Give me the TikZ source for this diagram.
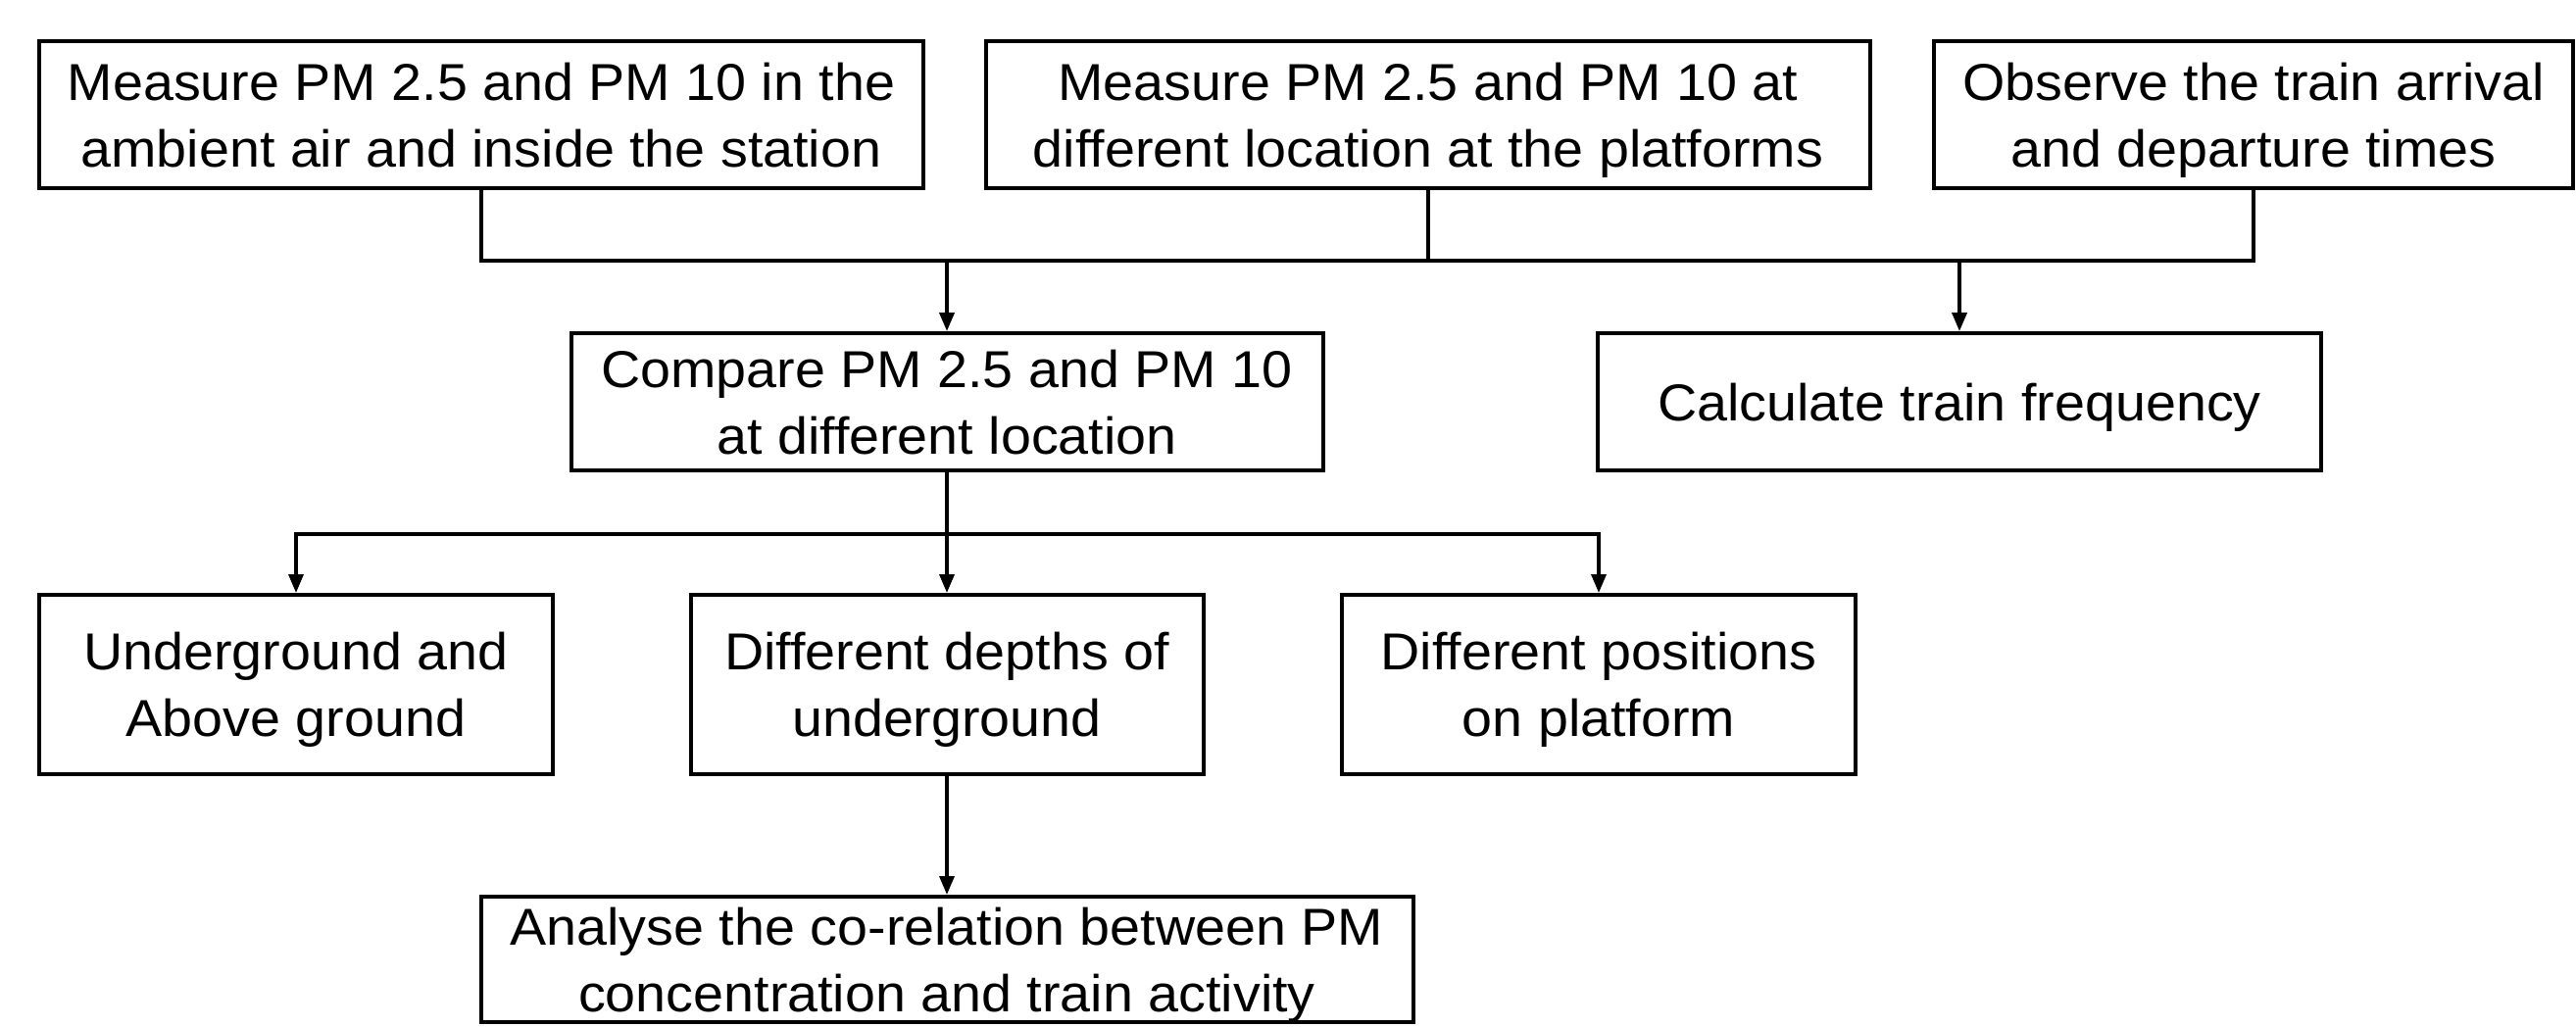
\documentclass[tikz,border=0pt]{standalone}
\usepackage{amsmath}
\usepackage{fontspec}
\setmainfont{Liberation Sans}[FakeStretch=1.05]
\usetikzlibrary{arrows.meta}

% last line of a box text: keep its descenders out of the centring
\newcommand{\lastline}[1]{\smash[b]{#1}}

\tikzset{
  stepbox/.style={draw=black, line width=4pt, fill=white, align=center,
    inner sep=0pt, font={\fontsize{53pt}{68pt}\selectfont}},
  conn/.style={draw=black, line width=3.5pt},
  arr/.style={conn, -{Triangle[length=19pt,width=15pt]}},
}

\begin{document}
\begin{tikzpicture}[x=1pt, y=-1pt]
  \useasboundingbox (0,0) rectangle (2628,1048);

  % top row: measurements and observations
  \node[stepbox, minimum width=902pt, minimum height=150pt] (A) at (491,117)
    {Measure PM 2.5 and PM 10 in the\\\lastline{ambient air and inside the station}};
  \node[stepbox, minimum width=902pt, minimum height=150pt] (B) at (1457,117)
    {Measure PM 2.5 and PM 10 at\\\lastline{different location at the platforms}};
  \node[stepbox, minimum width=652pt, minimum height=150pt] (C) at (2299,117)
    {Observe the train arrival\\\lastline{and departure times}};

  % second row
  \node[stepbox, minimum width=767pt, minimum height=140pt] (D) at (966,410)
    {Compare PM 2.5 and PM 10\\\lastline{at different location}};
  \node[stepbox, minimum width=738pt, minimum height=140pt] (E) at (1999,410)
    {\lastline{Calculate train frequency}};

  % third row: comparisons
  \node[stepbox, minimum width=524pt, minimum height=183pt] (F) at (302,698.5)
    {Underground and\\\lastline{Above ground}};
  \node[stepbox, minimum width=523pt, minimum height=183pt] (G) at (966,698.5)
    {Different depths of\\\lastline{underground}};
  \node[stepbox, minimum width=524pt, minimum height=183pt] (H) at (1631,698.5)
    {Different positions\\\lastline{on platform}};

  % final analysis
  \node[stepbox, minimum width=951pt, minimum height=128pt] (I) at (966,979)
    {Analyse the co-relation between PM\\\lastline{concentration and train activity}};

  % junction points of the connector bars
  \coordinate (j1) at (966,266);
  \coordinate (j2) at (966,545);

  % upper connector bar
  \draw[arr] (A.south) |- (j1) -- (D.north);
  \draw[conn] (B.south) -- (B.south |- j1);
  \draw[conn] (j1) -- (E.north |- j1);
  \draw[arr] (C.south) |- (E.north |- j1) -- (E.north);

  % lower connector bar
  \draw[arr] (D.south) -- (G.north);
  \draw[arr] (j2) -| (F.north);
  \draw[arr] (j2) -| (H.north);

  % to the analysis step
  \draw[arr] (G.south) -- (I.north);
\end{tikzpicture}
\end{document}
